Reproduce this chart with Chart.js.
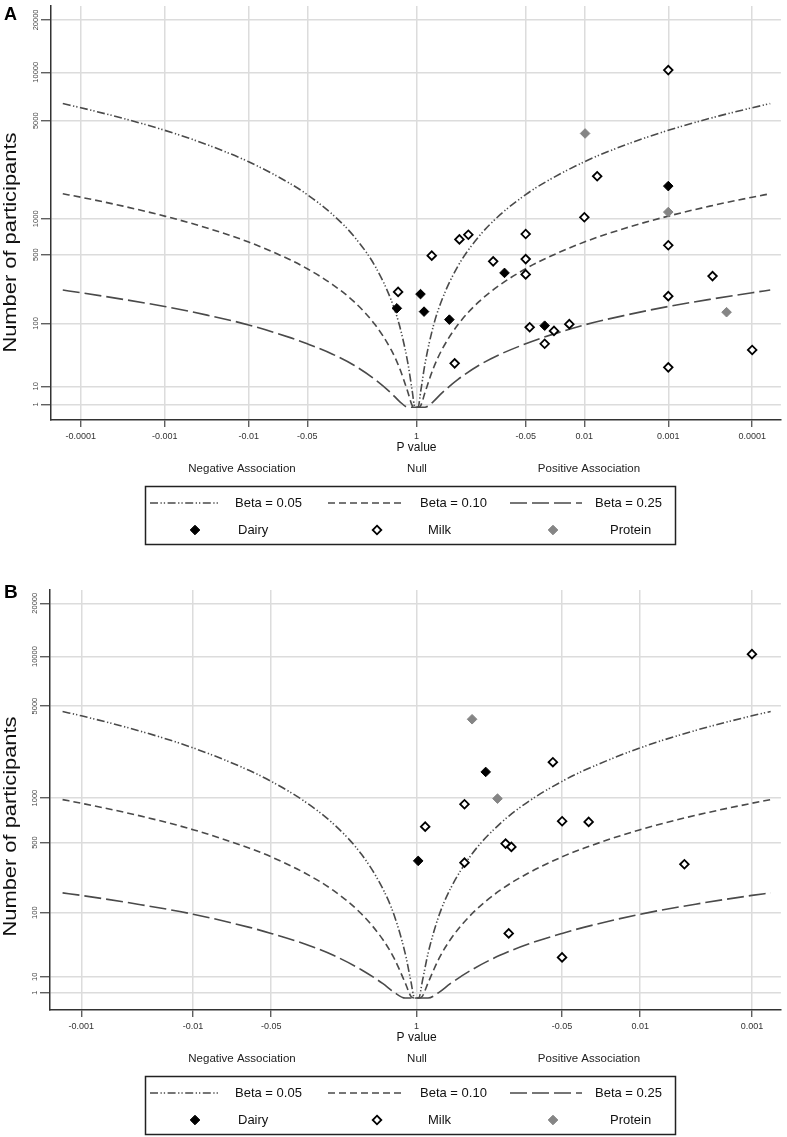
<!DOCTYPE html>
<html><head><meta charset="utf-8">
<script src="https://cdn.jsdelivr.net/npm/chart.js@4.4.1/dist/chart.umd.min.js"></script>
<style>
html,body{margin:0;padding:0;background:#fff;overflow:hidden;width:787px;height:1137px;}
.panel{position:absolute;left:0;width:787px;height:570px;}
#wa{top:0}#wb{top:570px}
canvas{display:block}
</style></head><body>
<div class="panel" id="wa"><canvas id="ca" width="787" height="570"></canvas></div>
<div class="panel" id="wb"><canvas id="cb" width="787" height="570"></canvas></div>
<script>
// ---------- data ----------
const yTickLabels = ['1','10','100','500','1000','5000','10000','20000'];
const yTickAtA = [2.3, 10, 100, 500, 1000, 5000, 10000, 20000];
const yTickAtB = [3.2, 10, 100, 500, 1150, 5000, 10000, 20000];

const xTickPA = [-0.0001, -0.001, -0.01, -0.05, 1, 0.05, 0.01, 0.001, 0.0001];
const xTickLabelsA = ['-0.0001','-0.001','-0.01','-0.05','1','-0.05','0.01','0.001','0.0001'];
const xTickPB = [-0.001, -0.01, -0.05, 1, 0.05, 0.01, 0.001];
const xTickLabelsB = ['-0.001','-0.01','-0.05','1','-0.05','0.01','0.001'];

const betaLabels = ['Beta = 0.05','Beta = 0.10','Beta = 0.25'];
const seriesNames = ['Dairy','Milk','Protein'];
const sideLabels = ['Negative Association','Null','Positive Association'];

// contour lines (p value on each side, number of participants)
const contourPA = [1, 0.955, 0.89, 0.79, 0.63, 0.5, 0.32, 0.18, 0.1, 0.05, 0.032, 0.01, 0.0032, 0.001, 0.00032, 0.0001, 0.000061];
const beta05A = [1, 1.3, 7.5, 28, 93, 182, 396, 719, 1082, 1536, 1839, 2654, 3476, 4332, 5180, 6056, 6432];
const beta10A = [1, 1, 1.9, 7, 23, 45, 97, 176, 263, 373, 446, 644, 843, 1050, 1256, 1469, 1560];
const beta25A = [1, 1, 1, 1, 3.3, 6.6, 14.2, 26, 39, 55, 66, 96, 125, 156, 186, 218, 232];

const contourPB = [1, 0.955, 0.89, 0.79, 0.63, 0.5, 0.32, 0.18, 0.1, 0.05, 0.032, 0.01, 0.0032, 0.001, 0.00068];
const beta05B = [1, 1.3, 7.5, 28, 93, 182, 396, 719, 1082, 1536, 1839, 2654, 3476, 4332, 4616];
const beta10B = [1, 1, 1.9, 7, 23, 45, 97, 176, 263, 373, 446, 644, 843, 1050, 1120];
const beta25B = [1, 1, 1, 1, 3.3, 6.6, 14.2, 26, 39, 55, 66, 96, 125, 156, 166];

// studies: signed p value (negative = negative association), participants
const milkA_p = [-0.604, 0.658, 0.308, 0.241, 0.351, 0.122, 0.05, 0.05, 0.05, 0.0448, 0.0297, 0.023, 0.0151, 0.01, 0.00703, 0.001, 0.001, 0.001, 0.001, 0.000297, 0.0001];
const milkA_n = [222, 490, 678, 742, 28, 436, 752, 457, 330, 90, 55, 81, 98, 1028, 2096, 10300, 604, 201, 24, 318, 45];
const dairyA_p = [-0.583, 0.896, 0.813, 0.406, 0.0894, 0.0297, 0.001];
const dairyA_n = [149, 211, 137, 111, 341, 94, 1778];
const proteinA_p = [0.0098, 0.001, 0.000202];
const proteinA_n = [4130, 1130, 135];

const milkB_p = [0.0604, 0.373, 0.838, 0.0499, 0.0289, 0.16, 0.142, 0.373, 0.15, 0.05, 0.001, 0.00402];
const milkB_n = [2110, 1032, 682, 756, 746, 490, 458, 330, 55, 24, 10330, 319];
const dairyB_p = [0.241, 0.968];
const dairyB_n = [1799, 343];
const proteinB_p = [0.319, 0.189];
const proteinB_n = [4115, 1140];

// ---------- helpers ----------
const FONT = "Arial, 'Liberation Sans', Helvetica, sans-serif";
const LINE_COL = '#4a4a4a';
const dash05 = [8, 2.5, 1.3, 2, 1.3, 2.5];
const dash10 = [7, 4];
const dash25 = [17, 5];

function xPos(p){ if (p === 1) return 0; const s = p < 0 ? -1 : 1; return s * (-Math.log10(Math.abs(p))); }
function tf(n){ const l = Math.log10(n); return l * l; }
function contourData(pArr, nArr){
  const pts = [];
  for (let i = pArr.length - 1; i >= 0; i--) pts.push({x: -xPos(pArr[i]), y: tf(nArr[i])});
  for (let i = 1; i < pArr.length; i++) pts.push({x: xPos(pArr[i]), y: tf(nArr[i])});
  return pts;
}
function pts(pArr, nArr){ return pArr.map((p, i) => ({x: xPos(p), y: tf(nArr[i])})); }

function diamond(ctx, x, y, r, fill, stroke, lw){
  ctx.beginPath();
  ctx.moveTo(x, y - r); ctx.lineTo(x + r, y); ctx.lineTo(x, y + r); ctx.lineTo(x - r, y); ctx.closePath();
  ctx.fillStyle = fill; ctx.fill();
  if (stroke){ ctx.lineWidth = lw; ctx.strokeStyle = stroke; ctx.setLineDash([]); ctx.stroke(); }
}

function panelPlugin(o){
  return {
    id: 'panel' + o.letter,
    afterDraw(chart){
      const ctx = chart.ctx, ca = chart.chartArea, ys = chart.scales.y, xs = chart.scales.x;
      const b = ca.bottom;
      ctx.save();
      // panel letter
      ctx.fillStyle = '#000'; ctx.font = 'bold ' + o.letterSize + 'px ' + FONT;
      ctx.textAlign = 'left'; ctx.textBaseline = 'alphabetic';
      ctx.fillText(o.letter, 4, o.letterBase);
      // y tick labels (rotated)
      ctx.fillStyle = '#444'; ctx.font = '7.5px ' + FONT; ctx.textAlign = 'center'; ctx.textBaseline = 'middle';
      ys.ticks.forEach((t, i) => {
        const y = ys.getPixelForValue(t.value);
        ctx.save(); ctx.translate(ca.left - 15, y); ctx.rotate(-Math.PI / 2); ctx.fillText(yTickLabels[i], 0, 0); ctx.restore();
      });
      // y title
      ctx.fillStyle = '#111'; ctx.font = '19px ' + FONT;
      const title = 'Number of participants';
      const w = ctx.measureText(title).width;
      ctx.save(); ctx.translate(11, ca.top + 236.5); ctx.rotate(-Math.PI / 2); ctx.scale(220 / w, 1);
      ctx.fillText(title, 0, 0); ctx.restore();
      // x title
      ctx.font = '12px ' + FONT; ctx.fillStyle = '#111';
      ctx.fillText('P value', xs.getPixelForValue(0), b + 28);
      // side labels
      ctx.font = '11.5px ' + FONT; ctx.fillStyle = '#222';
      ctx.fillText(sideLabels[0], 242, b + 49);
      ctx.fillText(sideLabels[1], 417, b + 49);
      ctx.fillText(sideLabels[2], 589, b + 49);
      // legend
      const top = b + 66, r1 = b + 83, r2 = b + 110;
      ctx.setLineDash([]); ctx.lineWidth = 1.5; ctx.strokeStyle = '#222';
      ctx.strokeRect(145.5, top + 0.5, 530, 58);
      const lineItems = [[150, 218, dash05, 235], [328, 405, dash10, 420], [510, 582, dash25, 595]];
      ctx.font = '13px ' + FONT; ctx.textAlign = 'left';
      lineItems.forEach((it, i) => {
        ctx.beginPath(); ctx.setLineDash(it[2]); ctx.lineWidth = 1.6; ctx.strokeStyle = LINE_COL;
        ctx.moveTo(it[0], r1); ctx.lineTo(it[1], r1); ctx.stroke();
        ctx.setLineDash([]); ctx.fillStyle = '#111'; ctx.fillText(betaLabels[i], it[3], r1);
      });
      diamond(ctx, 195, r2, 4.8, '#000', '#000', 1);
      diamond(ctx, 377, r2, 4.3, '#fff', '#000', 1.8);
      diamond(ctx, 553, r2, 4.8, '#858585', '#858585', 1);
      ctx.fillStyle = '#111';
      ctx.fillText(seriesNames[0], 238, r2);
      ctx.fillText(seriesNames[1], 428, r2);
      ctx.fillText(seriesNames[2], 610, r2);
      ctx.restore();
    }
  };
}

function makePanel(o){
  const gridCommon = {color: '#dcdcdc', lineWidth: 1.5, tickColor: '#444', tickWidth: 1.2};
  const lineDs = (label, data, dash) => ({
    label, data, showLine: true, pointRadius: 0, borderColor: LINE_COL, borderWidth: 1.6,
    borderDash: dash, cubicInterpolationMode: 'monotone', fill: false, order: 2
  });
  const ptDs = (label, data, bg, bc, bw, r) => ({
    label, data, showLine: false, pointStyle: 'rectRot', pointRadius: r, pointBackgroundColor: bg,
    pointBorderColor: bc, pointBorderWidth: bw, backgroundColor: bg, borderColor: bc, order: 1
  });
  new Chart(document.getElementById(o.canvas), {
    type: 'scatter',
    data: {
      datasets: [
        lineDs(betaLabels[0], contourData(o.cp, o.b05), dash05),
        lineDs(betaLabels[1], contourData(o.cp, o.b10), dash10),
        lineDs(betaLabels[2], contourData(o.cp, o.b25), dash25),
        ptDs(seriesNames[1], pts(o.milkP, o.milkN), '#fff', '#000', 1.8, 4.3),
        ptDs(seriesNames[0], pts(o.dairyP, o.dairyN), '#000', '#000', 1, 4.8),
        ptDs(seriesNames[2], pts(o.protP, o.protN), '#858585', '#858585', 1, 4.8)
      ]
    },
    options: {
      responsive: false, animation: false, devicePixelRatio: 1, events: [],
      layout: {padding: {left: 0, right: 4, top: o.padTop, bottom: 0}},
      plugins: {legend: {display: false}, tooltip: {enabled: false}},
      scales: {
        x: {
          type: 'linear', min: o.xMin, max: o.xMax,
          afterBuildTicks: s => { s.ticks = o.xTickP.map(p => ({value: xPos(p)})); },
          afterFit: s => { s.height = o.xH; },
          ticks: {autoSkip: false, maxRotation: 0, minRotation: 0, padding: 4, color: '#333',
                  font: {size: 9, family: FONT}, callback: (v, i) => o.xTickLabels[i]},
          grid: Object.assign({tickLength: 7}, gridCommon),
          border: {color: '#333', width: 1.5}
        },
        y: {
          type: 'linear', min: o.yMin, max: o.yMax,
          afterBuildTicks: s => { s.ticks = o.yTickAt.map(n => ({value: tf(n)})); },
          afterFit: s => { s.width = o.yW; },
          ticks: {display: false},
          grid: Object.assign({tickLength: 10}, gridCommon),
          border: {color: '#333', width: 1.5}
        }
      }
    },
    plugins: [panelPlugin(o)]
  });
}

makePanel({
  canvas: 'ca', letter: 'A', letterSize: 18, letterBase: 20, padTop: 0, xH: 150, yW: 51,
  xMin: -4.355, xMax: 4.342, yMin: -0.612, yMax: 19.16,
  xTickP: xTickPA, xTickLabels: xTickLabelsA, yTickAt: yTickAtA,
  cp: contourPA, b05: beta05A, b10: beta10A, b25: beta25A,
  milkP: milkA_p, milkN: milkA_n, dairyP: dairyA_p, dairyN: dairyA_n, protP: proteinA_p, protN: proteinA_n
});
makePanel({
  canvas: 'cb', letter: 'B', letterSize: 19, letterBase: 28, padTop: 20, xH: 130, yW: 50,
  xMin: -3.280, xMax: 3.259, yMin: -0.56, yMax: 19.12,
  xTickP: xTickPB, xTickLabels: xTickLabelsB, yTickAt: yTickAtB,
  cp: contourPB, b05: beta05B, b10: beta10B, b25: beta25B,
  milkP: milkB_p, milkN: milkB_n, dairyP: dairyB_p, dairyN: dairyB_n, protP: proteinB_p, protN: proteinB_n
});
</script>
</body></html>
